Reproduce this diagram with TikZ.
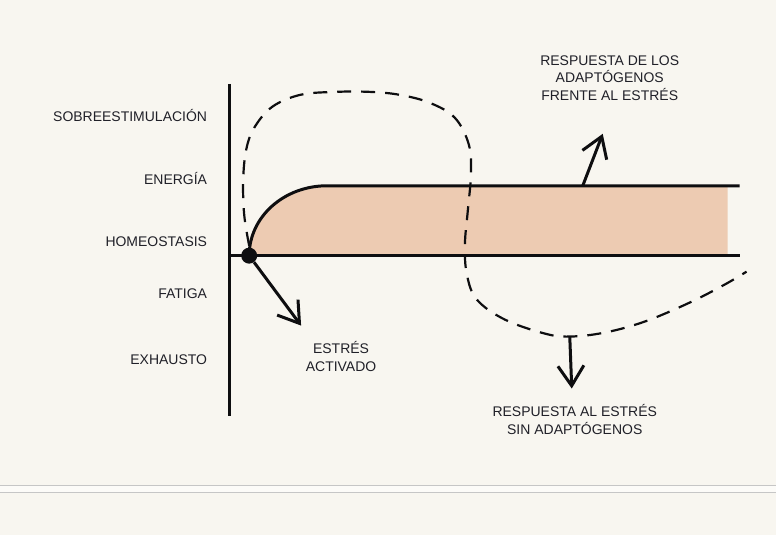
\documentclass[tikz,border=0pt]{standalone}
\usepackage{fontspec}
\setmainfont{Liberation Sans}
\usetikzlibrary{arrows.meta,positioning}
\definecolor{paper}{HTML}{F8F6F0}
\definecolor{peach}{HTML}{EDCBB2}
\definecolor{ink}{HTML}{0E0E10}
\definecolor{lettering}{HTML}{202028}
\definecolor{rulegray}{HTML}{C6C6C6}

\begin{document}
\begin{tikzpicture}[x=1pt,y=-1pt,
    lbl/.style={font=\fontsize{14}{17.5}\selectfont,text=lettering,inner sep=0pt,align=center},
    level/.style={lbl,anchor=east},
    bold line/.style={line width=3pt,draw=ink},
    >={Straight Barb[length=20pt,width=26pt]}]
  % page and the grey band below
  \fill[paper] (0,0) rectangle (776,536);
  \fill[white!55!paper] (0,486) rectangle (776,493);
  \draw[rulegray,line width=1pt] (0,486) -- (776,486) (0,493) -- (776,493);

  % levels
  \node[level] (sobre) at (207,116) {SOBREESTIMULACIÓN};
  \node[level] (energia) at (207,179) {ENERGÍA};
  \node[level] (homeo) at (207,242) {HOMEOSTASIS};
  \node[level] (fatiga) at (207,294) {FATIGA};
  \node[level] (exhausto) at (207,360) {EXHAUSTO};

  % band of the adaptogen response
  \fill[peach] (249,256) .. controls (249,217) and (284,186) .. (327,186)
    -- (728,186) -- (728,256) -- cycle;
  \draw[bold line] (229,84) -- (229,417);
  \draw[bold line] (229,256) -- (740,256);
  \draw[bold line] (249,256) .. controls (249,217) and (284,186) .. (327,186) -- (740,186);

  % response without adaptogens
  \draw[ink,line width=2.2pt,dash pattern=on 14pt off 10pt]
    plot[smooth,tension=0.6] coordinates {(249,246) (244,215) (243,180) (246,150)
      (254,128) (272,107) (300,95) (335,92) (370,92) (400,95) (430,103)
      (455,118) (469,145) (471,175) (468,210) (465,245) (467,275) (477,300)
      (505,320) (545,334) (570,337) (605,333) (645,322) (690,303) (725,285)
      (747,272)};

  \node[circle,fill=ink,minimum size=16pt,inner sep=0pt] (stress) at (249,256) {};

  % labels
  \node[lbl] (activado) at (341,357) {ESTRÉS\\ACTIVADO};
  \node[lbl] (conadapt) at (610,78) {RESPUESTA DE LOS\\ADAPTÓGENOS\\FRENTE AL ESTRÉS};
  \node[lbl] (sinadapt) at (575,420) {RESPUESTA AL ESTRÉS\\SIN ADAPTÓGENOS};

  % arrows
  \coordinate (acttip) at (301,326);
  \coordinate (upfoot) at (583,186);
  \coordinate (uptip) at (603,134);
  \coordinate (downfoot) at (570,337);
  \coordinate (downtip) at (572,389);
  \draw[bold line,->] (stress) -- (acttip);
  \draw[bold line,->] (upfoot) -- (uptip);
  \draw[bold line,->] (downfoot) -- (downtip);
\end{tikzpicture}
\end{document}
